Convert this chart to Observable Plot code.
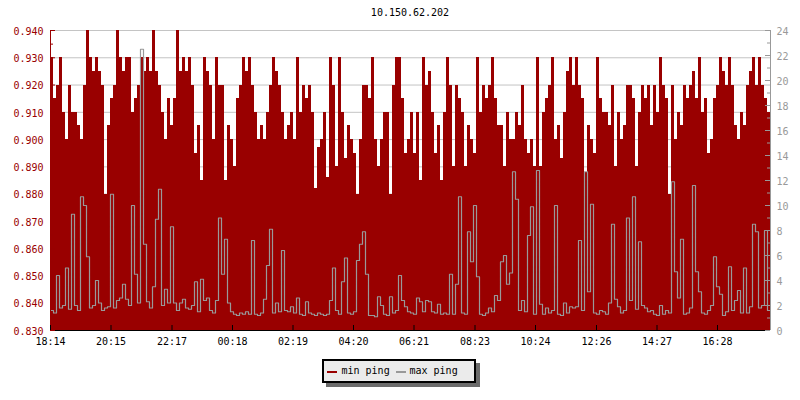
<!DOCTYPE html>
<html>
<head>
<meta charset="utf-8">
<script src="https://cdn.jsdelivr.net/npm/d3@7"></script>
<script src="https://cdn.jsdelivr.net/npm/@observablehq/plot@0.6"></script>
<style>
  html, body { margin: 0; padding: 0; background: #fff; }
  #wrap { position: relative; width: 800px; height: 400px; font-family: "DejaVu Sans Mono", monospace; font-size: 10px; }
  #wrap svg { position: absolute; left: 0; top: 0; }
  #title { position: absolute; left: 50px; width: 720px; top: 7px; line-height: 12px; text-align: center; color: #000; }
  #shadow { position: absolute; left: 326px; top: 363px; width: 154px; height: 24px; background: #6b6b6b; }
  #legend { position: absolute; left: 322px; top: 359px; width: 154px; height: 24px; box-sizing: border-box; border: 2px solid #000; background: #ebebeb; }
  .dash { position: absolute; width: 10px; height: 2px; }
  .ltxt { position: absolute; line-height: 12px; color: #000; white-space: pre; }
</style>
</head>
<body>
<div id="wrap">
  <div id="title"></div>
  <div id="shadow"></div>
  <div id="legend"></div>
</div>
<script>
// ---- data ----
const chartTitle = "10.150.62.202";
const seriesNames = ["min ping", "max ping"];
const seriesColors = ["#990000", "#999999"];

// min ping (left axis), one value per 6-minute sample
const minPing = [
  0.930,0.915,0.920,0.930,0.910,0.900,0.920,0.910,0.910,0.905,0.900,0.920,0.940,0.930,0.925,0.930,0.925,0.920,0.880,0.905,
  0.915,0.920,0.940,0.930,0.925,0.930,0.930,0.910,0.915,0.920,0.930,0.925,0.930,0.925,0.940,0.925,0.920,0.910,0.900,0.915,
  0.905,0.915,0.940,0.925,0.930,0.925,0.930,0.920,0.895,0.905,0.885,0.930,0.925,0.920,0.900,0.930,0.920,0.920,0.885,0.905,
  0.900,0.890,0.915,0.920,0.930,0.925,0.930,0.920,0.910,0.900,0.905,0.900,0.910,0.920,0.930,0.925,0.920,0.910,0.900,0.905,
  0.910,0.900,0.930,0.910,0.920,0.915,0.920,0.910,0.882,0.897,0.900,0.910,0.886,0.930,0.920,0.890,0.930,0.910,0.893,0.905,
  0.900,0.895,0.880,0.900,0.920,0.920,0.915,0.930,0.900,0.890,0.900,0.910,0.910,0.880,0.920,0.930,0.930,0.915,0.895,0.900,
  0.910,0.895,0.910,0.885,0.930,0.920,0.925,0.910,0.895,0.905,0.885,0.910,0.930,0.920,0.890,0.920,0.915,0.910,0.890,0.905,
  0.900,0.895,0.930,0.910,0.920,0.915,0.920,0.930,0.915,0.905,0.905,0.890,0.910,0.900,0.900,0.910,0.905,0.920,0.900,0.895,
  0.900,0.890,0.930,0.890,0.910,0.915,0.920,0.930,0.900,0.905,0.893,0.910,0.925,0.930,0.920,0.930,0.920,0.915,0.888,0.905,
  0.900,0.895,0.930,0.915,0.910,0.910,0.905,0.920,0.890,0.910,0.900,0.905,0.920,0.920,0.915,0.890,0.910,0.920,0.915,0.920,
  0.905,0.920,0.910,0.930,0.920,0.915,0.880,0.920,0.900,0.910,0.905,0.920,0.915,0.920,0.925,0.915,0.930,0.910,0.915,0.895,
  0.900,0.915,0.920,0.930,0.925,0.920,0.930,0.920,0.905,0.900,0.910,0.905,0.920,0.925,0.930,0.920,0.930,0.920,0.915,0.910
];

// max ping (right axis), same samples
const maxPing = [
  1.6,1.4,4.4,1.8,2.0,5.0,1.7,9.3,2.0,1.6,10.7,10.0,5.9,1.8,2.0,4.0,2.2,1.6,1.8,1.9,
  10.9,1.8,2.4,2.6,3.7,2.5,2.0,10.0,4.5,2.2,22.5,6.9,2.3,1.8,3.5,8.9,11.3,2.0,3.3,2.2,
  8.3,2.2,1.6,2.2,2.5,1.8,1.7,2.0,3.9,1.5,4.1,2.4,2.6,1.6,1.4,2.4,9.0,4.5,7.3,2.2,
  1.5,1.3,1.2,1.4,1.3,1.5,1.3,7.2,1.3,1.2,1.4,2.5,5.2,8.1,1.4,2.2,1.5,6.4,1.6,1.5,
  1.9,1.4,2.6,1.3,1.2,2.3,1.4,1.3,1.2,1.4,1.3,1.2,1.3,2.4,5.0,1.6,1.3,3.9,5.8,1.4,
  1.3,1.5,5.6,6.9,7.9,4.5,1.2,1.2,1.1,2.7,2.0,1.3,1.2,2.7,1.4,1.6,4.4,2.4,1.9,1.5,
  1.4,1.3,2.6,2.3,1.5,2.4,2.3,1.5,1.4,2.1,1.3,1.4,1.3,4.5,1.3,3.7,10.7,1.4,1.3,7.9,
  5.5,10.0,4.3,1.3,1.2,1.4,1.8,1.5,2.8,2.4,5.5,6.0,3.7,4.6,12.7,10.5,1.6,2.4,1.5,7.6,
  9.9,1.3,12.8,2.1,1.3,1.8,1.4,1.6,10.0,1.3,1.2,2.2,1.4,1.9,1.8,1.9,7.2,1.6,12.7,3.1,
  10.1,1.4,1.3,1.6,1.5,1.3,2.2,8.5,2.5,1.9,1.4,1.6,9.0,2.4,10.7,1.7,7.1,2.0,1.8,1.5,
  1.6,1.3,1.2,2.0,1.3,1.6,1.4,11.9,4.7,2.6,7.3,1.3,1.4,1.8,11.6,4.7,3.1,1.4,1.3,1.6,
  2.0,5.9,3.5,2.9,1.2,1.5,5.1,1.6,2.4,3.2,1.4,5.0,1.4,1.9,8.5,7.9,1.8,2.0,8.0,1.6
];

const startLabel = "18:14";
const sampleMinutes = 6;
const xTickLabels = ["18:14","20:15","22:17","00:18","02:19","04:20","06:21","08:23","10:24","12:26","14:27","16:28"];
const leftTicks = [0.830,0.840,0.850,0.860,0.870,0.880,0.890,0.900,0.910,0.920,0.930,0.940];
const leftMinorTicks = [0.835,0.845,0.855,0.865,0.875,0.885,0.895,0.905,0.915,0.925,0.935];
const rightTicks = [0,2,4,6,8,10,12,14,16,18,20,22,24];
const rightMinorTicks = [1,3,5,7,9,11,13,15,17,19,21,23];

// ---- build ----
const leftDomain = [0.830, 0.940];
const rightDomain = [0, 24];
const toLeft = v => leftDomain[0] + (v - rightDomain[0]) * (leftDomain[1] - leftDomain[0]) / (rightDomain[1] - rightDomain[0]);
const fromLeft = y => rightDomain[0] + (y - leftDomain[0]) * (rightDomain[1] - rightDomain[0]) / (leftDomain[1] - leftDomain[0]);

const toMin = s => { const [h, m] = s.split(":").map(Number); return h * 60 + m; };
const start = toMin(startLabel);
const xTicks = xTickLabels.map(s => { let m = toMin(s) - start; if (m < 0) m += 1440; return m; });
const labelAt = new Map(xTicks.map((m, i) => [m, xTickLabels[i]]));

const n = minPing.length;
const span = n * sampleMinutes;
const rows = minPing.map((v, i) => ({t: i * sampleMinutes, min: v, max: maxPing[i]}));
rows.push({t: span, min: minPing[n - 1], max: maxPing[n - 1]});

const W = 800, H = 400, ML = 50, MR = 30, MT = 30, MB = 70;
const pxY = (leftDomain[1] - leftDomain[0]) / (H - MT - MB);
const pxX = span / (W - ML - MR);

const chart = Plot.plot({
  width: W, height: H,
  marginLeft: ML, marginRight: MR, marginTop: MT, marginBottom: MB,
  style: {fontFamily: '"DejaVu Sans Mono", monospace', fontSize: "10px", background: "transparent", overflow: "visible"},
  x: {type: "linear", domain: [0, span], axis: null},
  y: {domain: leftDomain, axis: null},
  marks: [
    Plot.ruleY(leftTicks, {stroke: "#c4c4c4"}),
    Plot.areaY(rows, {x: "t", y1: () => leftDomain[0], y2: "min", curve: "step-after", fill: seriesColors[0], shapeRendering: "crispEdges"}),
    Plot.line(rows, {x: "t", y: d => toLeft(d.max), curve: "step-after", stroke: seriesColors[1], strokeWidth: 1.2}),
    // axis lines
    Plot.ruleX([0], {stroke: "#990000"}),
    Plot.ruleX([span], {stroke: "#999999"}),
    Plot.ruleY([leftDomain[0]], {stroke: "#000"}),
    // inward ticks
    Plot.ruleY(leftTicks, {x1: () => 0, x2: () => 5 * pxX, stroke: "#990000"}),
    Plot.ruleY(leftMinorTicks, {x1: () => 0, x2: () => 3 * pxX, stroke: "#990000"}),
    Plot.ruleY(rightTicks.map(toLeft), {x1: () => span - 5 * pxX, x2: () => span, stroke: "#999999"}),
    Plot.ruleY(rightMinorTicks.map(toLeft), {x1: () => span - 3 * pxX, x2: () => span, stroke: "#999999"}),
    Plot.ruleX(xTicks, {y1: () => leftDomain[0], y2: () => leftDomain[0] + 5 * pxY, stroke: "#000"}),
    // axis labels
    Plot.axisY({anchor: "left", ticks: leftTicks, tickSize: 0, tickPadding: 7, label: null,
      tickFormat: d => d.toFixed(3), fill: "#990000", dy: 1}),
    Plot.axisY({anchor: "right", ticks: rightTicks.map(toLeft), tickSize: 0, tickPadding: 6, label: null,
      tickFormat: d => String(Math.round(fromLeft(d))), fill: "#999999", dy: 1}),
    Plot.axisX({anchor: "bottom", ticks: xTicks, tickSize: 0, tickPadding: 7, label: null,
      tickFormat: m => labelAt.get(m), fill: "#000"})
  ]
});

const wrap = document.getElementById("wrap");
wrap.insertBefore(chart, wrap.firstChild);
document.getElementById("title").textContent = chartTitle;

// legend
const legendItems = [
  {name: seriesNames[0], color: seriesColors[0], dashX: 327, textX: 341.5},
  {name: seriesNames[1], color: seriesColors[1], dashX: 395.5, textX: 409.5}
];
for (const it of legendItems) {
  const d = document.createElement("div");
  d.className = "dash";
  d.style.left = it.dashX + "px";
  d.style.top = "371px";
  d.style.background = it.color;
  wrap.appendChild(d);
  const t = document.createElement("div");
  t.className = "ltxt";
  t.style.left = it.textX + "px";
  t.style.top = "365px";
  t.textContent = it.name;
  wrap.appendChild(t);
}
</script>
</body>
</html>
